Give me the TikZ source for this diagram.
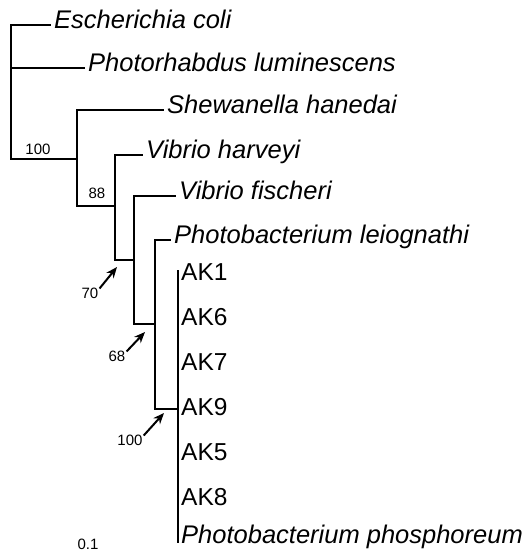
\documentclass[tikz,border=0pt]{standalone}
\usepackage{fontspec}
\setmainfont{Liberation Sans}
\usetikzlibrary{arrows.meta,positioning,calc}
\tikzset{
  leaf/.style={anchor=west, inner xsep=4pt, inner ysep=0pt, text height=0.72em, text depth=0pt,
               font=\fontsize{25.5}{28}\selectfont\itshape},
  strain/.style={leaf, font=\fontsize{24.5}{27}\selectfont},
  branch/.style={line width=1.1pt, line cap=rect},
  boot/.style={inner sep=0pt, font=\fontsize{15}{17}\selectfont},
  arr/.style={-{Stealth[length=11pt,width=9pt]}, line width=2pt},
}

\begin{document}
\begin{tikzpicture}[x=1pt,y=-1pt]
    \useasboundingbox (0,0) rectangle (526,551);
    % inner nodes of the tree
    \coordinate (r)  at (11,92);
    \coordinate (n2) at (77,159);
    \coordinate (n3) at (115,206);
    \coordinate (n4) at (134,260);
    \coordinate (n5) at (155,324);
    \coordinate (n6) at (178,409);
    % leaves
    \node[leaf] (ecoli) at (50,25) {Escherichia coli};
    \node[leaf] (photo) at (84,68) {Photorhabdus luminescens};
    \node[leaf] (shew)  at (163,110) {Shewanella hanedai};
    \node[leaf] (harv)  at (142,155) {Vibrio harveyi};
    \node[leaf] (fisch) at (175,196) {Vibrio fischeri};
    \node[leaf] (leio)  at (170,240) {Photobacterium leiognathi};
    \node[strain] (ak1) at (177,277) {AK1};
    \node[strain] (ak6) at (177,322) {AK6};
    \node[strain] (ak7) at (177,367) {AK7};
    \node[strain] (ak9) at (177,412) {AK9};
    \node[strain] (ak5) at (177,457) {AK5};
    \node[strain] (ak8) at (177,502) {AK8};
    \node[leaf] (phos)  at (177,540) {Photobacterium phosphoreum};
    % branches
    \draw[branch] (ecoli.west) -| (r) |- (n2);
    \draw[branch] (r) |- (photo.west);
    \draw[branch] (shew.west) -| (n2) |- (n3);
    \draw[branch] (harv.west) -| (n3) |- (n4);
    \draw[branch] (fisch.west) -| (n4) |- (n5);
    \draw[branch] (leio.west) -| (n5) |- (n6);
    \draw[branch] ([yshift=6pt]n6 |- ak1) -- ([yshift=-2pt]n6 |- phos);
    % bootstrap values
    \node[boot] (b100) at (38,149) {100};
    \node[boot] (b88)  at (97,193) {88};
    \node[boot] (b70)  at (90,293) {70};
    \node[boot] (b68)  at (117,356) {68};
    \node[boot] (b100b) at (130,440) {100};
    \coordinate (t70) at (117,267);
    \coordinate (t68) at (145,332);
    \coordinate (t100) at (164,413);
    \draw[arr] ([shift={(1pt,-1pt)}]b70.north east) -- (t70);
    \draw[arr] ([shift={(1pt,-1pt)}]b68.north east) -- (t68);
    \draw[arr] ([shift={(1pt,-1pt)}]b100b.north east) -- (t100);
    % scale
    \node[boot] (scale) at (88,544) {0.1};
\end{tikzpicture}
\end{document}
